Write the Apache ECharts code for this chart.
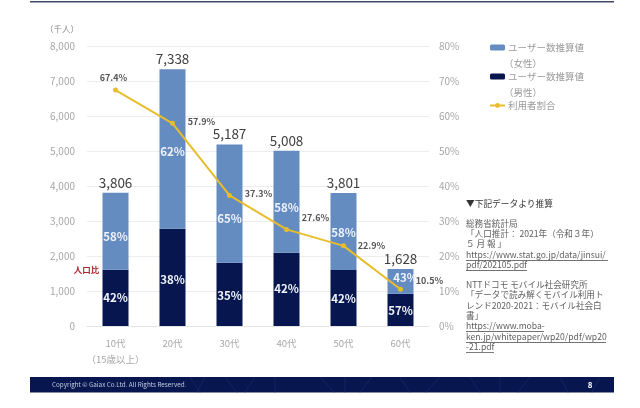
<!DOCTYPE html>
<html><head><meta charset="utf-8">
<style>html,body{margin:0;padding:0;background:#fff}#c{width:640px;height:408px;filter:blur(0.35px)}</style>
<script src="https://cdn.jsdelivr.net/npm/echarts@6/dist/echarts.min.js"></script>
</head><body><div id="c"></div>
<script>
const FONT='"Noto Sans CJK JP","Noto Sans",sans-serif';
const categories=['10代\n（15歳以上）','20代','30代','40代','50代','60代'];
const maleValues=[1610,2780,1810,2090,1600,920];
const femaleValues=[2196,4558,3377,2918,2201,708];
const totals=[3806,7338,5187,5008,3801,1628];
const malePct=['42%','38%','35%','42%','42%','57%'];
const femalePct=['58%','62%','65%','58%','58%','43%'];
const userRatio=[67.4,57.9,37.3,27.6,22.9,10.5];
const ratioLabelOffset=[[-2,-6],[29,5],[29,5],[29,-5],[28,7],[29,-2]];
const femaleLabelOffset=[[0,5],[0,3],[0,15],[0,6],[0,1],[5,-4]];
const maleLabelOffset=[[0,0],[0,2],[0,1],[0,-1],[0,1],[0,1]];
const sourceLines=[
 ['▼下記データより推算',466,203.5,0],
 ['総務省統計局',466,224,0],
 ['「人口推計： 2021年（令和３年）',466,234,0],
 ['５ 月 報 」',466,244,0],
 ['https://www.stat.go.jp/data/jinsui/',466,255,142],
 ['pdf/202105.pdf',466,265,61],
 ['NTTドコモ モバイル社会研究所',466,285,0],
 ['「データで読み解くモバイル利用ト',466,295,0],
 ['レンド2020-2021：モバイル社会白',466,306,0],
 ['書」',466,316,0],
 ['https://www.moba-',466,326,78],
 ['ken.jp/whitepaper/wp20/pdf/wp20',466,337,140],
 ['-21.pdf',466,347,28]
];
const legendSubLabels=[['（女性）',508,63],['（男性）',508,92]];
const footerPattern=[[190,10],[205,-8],[225,12],[255,-10],[275,0],[320,14],[345,0],[372,-12],[400,10],[440,-14],[470,10],[500,0],[530,-12],[560,8],[600,-8]];
const graphics=[
 {type:'rect',shape:{x:30,y:1,width:584,height:1.6},style:{fill:'#3f4a68'}},
 {type:'rect',shape:{x:30,y:377,width:584,height:15.5},style:{fill:'#07164f'}}
];
footerPattern.forEach(([x,d])=>graphics.push({type:'line',shape:{x1:x,y1:377,x2:x+d,y2:392.5},style:{stroke:'#1d2d6b',lineWidth:0.6}}));
graphics.push(
 {type:'text',x:52,y:384.5,style:{text:'Copyright © Gaiax Co.Ltd. All Rights Reserved.',font:'6.3px '+FONT,fill:'#c4cbe0',verticalAlign:'middle'}},
 {type:'text',x:590,y:385,style:{text:'8',font:'bold 8px '+FONT,fill:'#ffffff',align:'center',verticalAlign:'middle'}},
 {type:'text',x:86.5,y:270,style:{text:'人口比',font:'bold 8.5px '+FONT,fill:'#b02a30',align:'center',verticalAlign:'middle'}}
);
legendSubLabels.forEach(([t,x,y])=>graphics.push({type:'text',x:x-4,y,style:{text:t,font:'9.5px '+FONT,fill:'#9a9a9a',verticalAlign:'middle'}}));
sourceLines.forEach(([t,x,y,u],i)=>{
 graphics.push({type:'text',x,y,style:{text:t,font:(i==0?'8.7px ':'8.6px ')+FONT,fill:i==0?'#333':'#5f5f5f',verticalAlign:'middle'}});
 if(u)graphics.push({type:'rect',shape:{x,y:y+5,width:u,height:0.7},style:{fill:'#444'}});
});
const chart=echarts.init(document.getElementById('c'));
const pctData=(vals,off)=>vals.map((v,i)=>({value:v,label:{offset:off[i]}}));
const pctStyle=arr=>({show:true,position:'inside',color:'#eef2fa',fontSize:11.5,fontWeight:'bold',fontFamily:FONT,formatter:p=>arr[p.dataIndex]});
chart.setOption({
 animation:false,backgroundColor:'#fff',textStyle:{fontFamily:FONT},
 grid:{left:87,right:211,top:46,bottom:82},
 legend:{orient:'vertical',left:484,top:35,itemWidth:15,itemHeight:6,itemGap:14,
  formatter:n=>n.split('\n')[0],
  textStyle:{color:'#9a9a9a',fontSize:9.5,lineHeight:15,fontFamily:FONT,padding:[0,0,0,-2]},
  data:['ユーザー数推算値\n（女性）','ユーザー数推算値\n（男性）','利用者割合']},
 xAxis:{type:'category',data:categories,axisTick:{show:false},axisLine:{lineStyle:{color:'#e4e4e4'}},
  axisLabel:{color:'#a6a6a6',fontSize:9.5,margin:9,lineHeight:16,interval:0}},
 yAxis:[
  {type:'value',min:0,max:8000,interval:1000,name:'（千人）',nameGap:13,nameLocation:'end',
   nameTextStyle:{color:'#8c8c8c',fontSize:8.5,align:'right',padding:[0,8,0,0]},
   axisLabel:{color:'#a6a6a6',fontSize:10,margin:12,formatter:v=>v.toLocaleString('en-US')},
   axisLine:{show:false},axisTick:{show:false},splitLine:{lineStyle:{color:'#ececec'}}},
  {type:'value',min:0,max:80,interval:10,position:'right',
   axisLabel:{color:'#a6a6a6',fontSize:10,margin:10,formatter:'{value}%'},
   axisLine:{show:false},axisTick:{show:false},splitLine:{show:false}}
 ],
 graphic:graphics,
 series:[
  {name:'ユーザー数推算値\n（男性）',type:'bar',stack:'u',barWidth:26,data:pctData(maleValues,maleLabelOffset),itemStyle:{color:'#07164f'},label:pctStyle(malePct)},
  {name:'ユーザー数推算値\n（女性）',type:'bar',stack:'u',barWidth:26,data:pctData(femaleValues,femaleLabelOffset),itemStyle:{color:'#658cc0'},label:pctStyle(femalePct)},
  {name:'合計',type:'line',data:totals,symbol:'circle',symbolSize:1,itemStyle:{color:'rgba(0,0,0,0)'},lineStyle:{opacity:0},silent:true,
   label:{show:true,position:'top',distance:3,color:'#404040',fontSize:13.5,formatter:p=>p.value.toLocaleString('en-US')}},
  {name:'利用者割合',type:'line',yAxisIndex:1,symbol:'circle',symbolSize:5,
   lineStyle:{color:'#e8bd2c',width:2},itemStyle:{color:'#e8bd2c'},z:5,
   data:userRatio.map((v,i)=>({value:v,label:{offset:ratioLabelOffset[i]}})),
   label:{show:true,position:'top',distance:0,color:'#555',fontSize:9,fontWeight:'bold',formatter:p=>p.value+'%'}}
 ]
});
</script></body></html>
